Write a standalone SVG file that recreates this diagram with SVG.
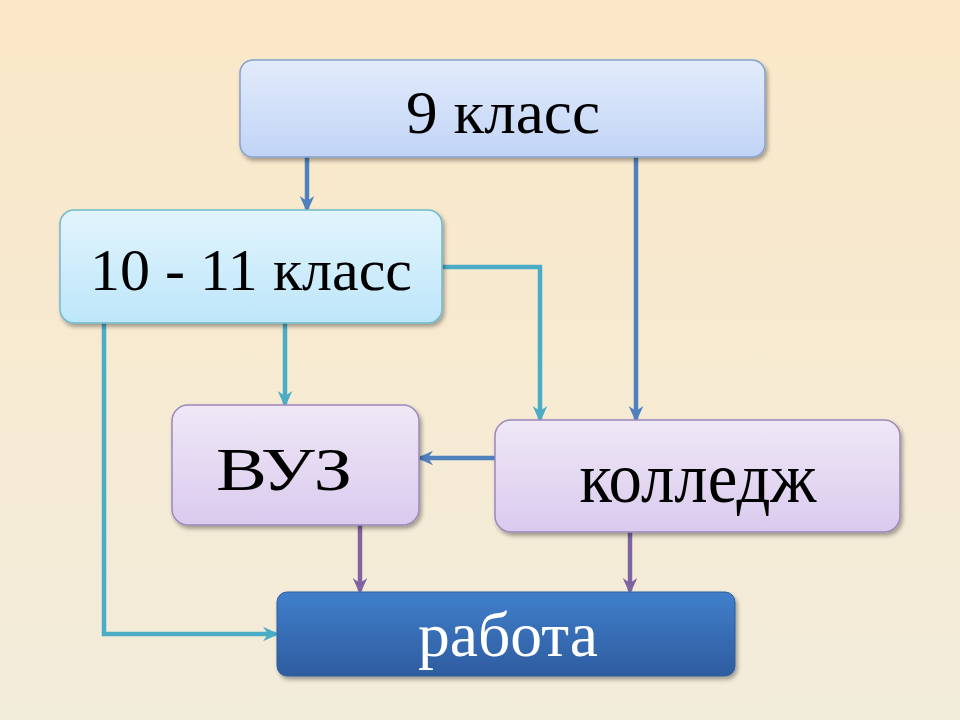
<svg xmlns="http://www.w3.org/2000/svg" width="960" height="720" viewBox="0 0 960 720">
<defs>
<linearGradient id="bg" x1="0" y1="0" x2="0" y2="1">
<stop offset="0" stop-color="#fbe8c8"/>
<stop offset="1" stop-color="#f2ecdb"/>
</linearGradient>
<linearGradient id="gBlue" x1="0" y1="0" x2="0" y2="1">
<stop offset="0" stop-color="#e2ebfb"/>
<stop offset="1" stop-color="#c1d4f6"/>
</linearGradient>
<linearGradient id="gCyan" x1="0" y1="0" x2="0" y2="1">
<stop offset="0" stop-color="#e2f4fc"/>
<stop offset="1" stop-color="#bde6fa"/>
</linearGradient>
<linearGradient id="gLav" x1="0" y1="0" x2="0" y2="1">
<stop offset="0" stop-color="#efe8f6"/>
<stop offset="1" stop-color="#dacaee"/>
</linearGradient>
<linearGradient id="gDark" x1="0" y1="0" x2="0" y2="1">
<stop offset="0" stop-color="#407fcb"/>
<stop offset="1" stop-color="#2e5c9f"/>
</linearGradient>
<filter id="sh" x="-10%" y="-10%" width="125%" height="130%">
<feDropShadow dx="2" dy="3" stdDeviation="2" flood-color="#000" flood-opacity="0.35"/>
</filter>
<marker id="aBlue" viewBox="0 0 10 10" refX="8" refY="5" markerWidth="3.6" markerHeight="3.6" orient="auto" markerUnits="strokeWidth">
<path d="M0,0.5 L10,5 L0,9.5 L3,5 Z" fill="#4f81bd"/>
</marker>
<marker id="aTeal" viewBox="0 0 10 10" refX="8" refY="5" markerWidth="3.6" markerHeight="3.6" orient="auto" markerUnits="strokeWidth">
<path d="M0,0.5 L10,5 L0,9.5 L3,5 Z" fill="#4bacc6"/>
</marker>
<marker id="aPurp" viewBox="0 0 10 10" refX="8" refY="5" markerWidth="3.6" markerHeight="3.6" orient="auto" markerUnits="strokeWidth">
<path d="M0,0.5 L10,5 L0,9.5 L3,5 Z" fill="#8064a2"/>
</marker>
</defs>
<style>
.lbl{font-family:"Liberation Serif","DejaVu Serif",serif;text-anchor:middle;fill:#000}
.c{fill:none;stroke-width:4.5}
.blue{stroke:#4f81bd;marker-end:url(#aBlue)}
.teal{stroke:#4bacc6;marker-end:url(#aTeal)}
.purp{stroke:#8064a2;marker-end:url(#aPurp)}
</style>
<rect x="0" y="0" width="960" height="720" fill="url(#bg)"/>

<g id="connectors">
<path class="c blue" d="M307,157 V209"/>
<path class="c blue" d="M636,157 V419"/>
<path class="c teal" d="M285,323 V404"/>
<path class="c teal" d="M442,267 H540 V419"/>
<path class="c teal" d="M104,323 V634 H276"/>
<path class="c blue" d="M495,458 H420"/>
<path class="c purp" d="M360,525 V591"/>
<path class="c purp" d="M630,532 V591"/>
</g>

<g id="n9">
<rect x="240" y="60" width="525" height="97" rx="13" fill="url(#gBlue)" stroke="#86a3cc" stroke-width="1.5" filter="url(#sh)"/>
<text class="lbl" x="503" y="133" font-size="62" textLength="194" lengthAdjust="spacingAndGlyphs">9 класс</text>
</g>
<g id="n1011">
<rect x="60" y="210" width="382" height="113" rx="14" fill="url(#gCyan)" stroke="#72b9cb" stroke-width="1.5" filter="url(#sh)"/>
<text class="lbl" x="251" y="290" font-size="60" textLength="322" lengthAdjust="spacingAndGlyphs">10 - 11 класс</text>
</g>
<g id="nvuz">
<rect x="172" y="405" width="247" height="120" rx="16" fill="url(#gLav)" stroke="#9d87bb" stroke-width="1.5" filter="url(#sh)"/>
<text class="lbl" x="284" y="490" font-size="62" textLength="136" lengthAdjust="spacingAndGlyphs">ВУЗ</text>
</g>
<g id="ncol">
<rect x="495" y="420" width="405" height="112" rx="16" fill="url(#gLav)" stroke="#9d87bb" stroke-width="1.5" filter="url(#sh)"/>
<text class="lbl" x="698" y="502" font-size="72" textLength="237" lengthAdjust="spacingAndGlyphs">колледж</text>
</g>
<g id="nwork">
<rect x="277" y="592" width="458" height="84" rx="10" fill="url(#gDark)" stroke="#2f5c9a" stroke-width="1" filter="url(#sh)"/>
<text class="lbl" x="508" y="656" font-size="64" textLength="180" lengthAdjust="spacingAndGlyphs" style="fill:#fff">работа</text>
</g>
</svg>
